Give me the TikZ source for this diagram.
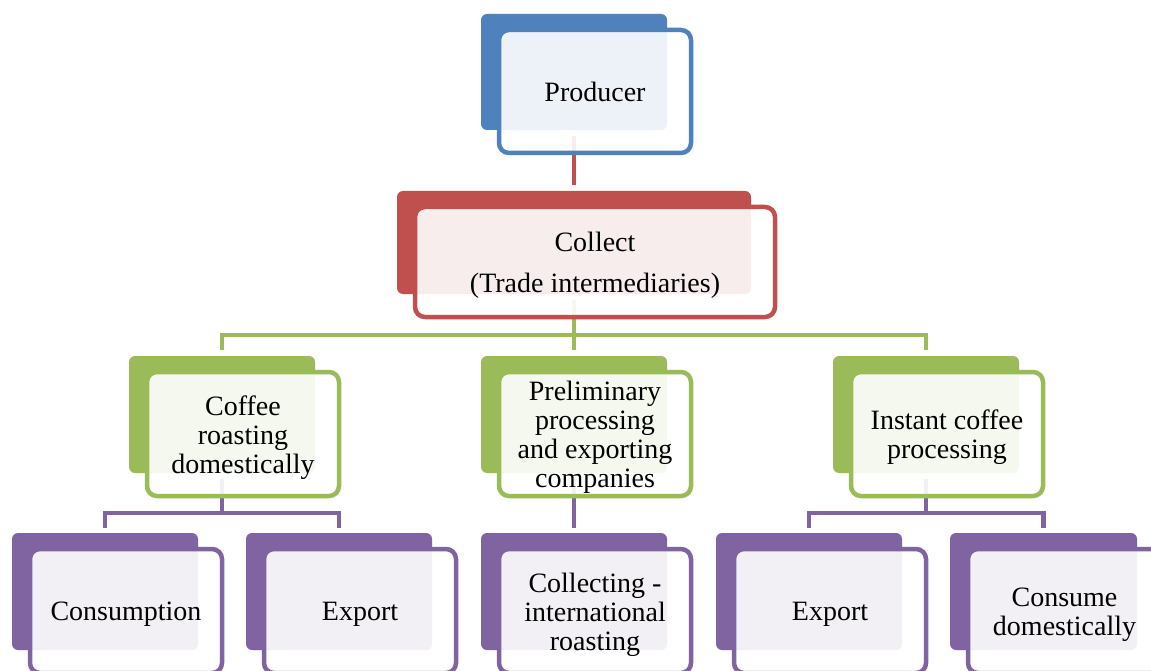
\documentclass[tikz,border=0pt]{standalone}
\usepackage{fontspec}
\setmainfont{Liberation Serif}
\usetikzlibrary{calc}
\definecolor{cblue}{HTML}{4F81BD}
\definecolor{cred}{HTML}{C0504D}
\definecolor{cgreen}{HTML}{9BBB59}
\definecolor{cpurple}{HTML}{8064A2}
\tikzset{
  backbox/.style={fill=#1, draw=none, rounded corners=6pt, inner sep=0pt, outer sep=0pt},
  frontbox/.style={draw=#1, fill=white, fill opacity=0.9, line width=4.5pt, rounded corners=10pt, inner sep=0pt, outer sep=0pt},
  boxtext/.style={font=\fontsize{28}{29}\selectfont, align=center, inner sep=0pt, text=black},
  link/.style={draw=#1, line width=4.5pt},
}
\newcommand\backpart[5]{% name, colour, width, height, centre
  \node[backbox=#2, minimum width=#3pt, minimum height=#4pt] (#1B) at #5 {};}
\newcommand\frontpart[6]{% name, colour, width, height, text shift, text
  \node[frontbox=#2, minimum width={(#3+6)*1pt}, minimum height={(#4+7)*1pt}] (#1F) at ($(#1B.center)+(21,19.5)$) {};
  \node[boxtext] (#1T) at ($(#1F.center)+(0,#5)$) {#6};}
\begin{document}
\begin{tikzpicture}[x=1pt,y=-1pt]
\clip (0,0) rectangle (1151,671);
\fill[white] (0,0) rectangle (1151,671);
% back parts
\backpart{prod}{cblue}{186}{116}{(574,72)}
\backpart{col}{cred}{354}{103}{(574,242.5)}
\backpart{cof}{cgreen}{186}{117}{(222,414.5)}
\backpart{pre}{cgreen}{186}{117}{(574,414.5)}
\backpart{ins}{cgreen}{186}{117}{(926,414.5)}
\backpart{con}{cpurple}{186}{117}{(105,591.5)}
\backpart{exa}{cpurple}{186}{117}{(339,591.5)}
\backpart{clg}{cpurple}{186}{117}{(574,591.5)}
\backpart{exb}{cpurple}{186}{117}{(809,591.5)}
\backpart{cdm}{cpurple}{187}{117}{(1043.5,591.5)}
% connectors
\draw[link=cred, shorten <=6pt, shorten >=6pt] (prodB.south) -- (colB.north);
\coordinate (gbus) at (574,335);
\draw[link=cgreen, shorten <=6pt] (colB.south) -- (gbus);
\draw[link=cgreen, shorten >=6pt] (gbus) -| (cofB.north);
\draw[link=cgreen, shorten >=6pt] (gbus) -| (insB.north);
\draw[link=cgreen, shorten >=6pt] (gbus) -- (preB.north);
\coordinate (pbusa) at (222,513);
\draw[link=cpurple, shorten <=6pt] (cofB.south) -- (pbusa);
\draw[link=cpurple, shorten >=5pt] (pbusa) -| (conB.north);
\draw[link=cpurple, shorten >=5pt] (pbusa) -| (exaB.north);
\draw[link=cpurple, shorten <=6pt, shorten >=5pt] (preB.south) -- (clgB.north);
\coordinate (pbusb) at (926,513);
\draw[link=cpurple, shorten <=6pt] (insB.south) -- (pbusb);
\draw[link=cpurple, shorten >=5pt] (pbusb) -| (exbB.north);
\draw[link=cpurple, shorten >=5pt] (pbusb) -| (cdmB.north);
% front parts and texts
\frontpart{prod}{cblue}{186}{116}{0.5}{Producer}
\frontpart{col}{cred}{354}{103}{3.5}{Collect\\[12pt](Trade intermediaries)}
\frontpart{cof}{cgreen}{186}{117}{3.5}{Coffee\\roasting\\domestically}
\frontpart{pre}{cgreen}{186}{117}{3.5}{Preliminary\\processing\\and exporting\\companies}
\frontpart{ins}{cgreen}{186}{117}{3.5}{Instant coffee\\processing}
\frontpart{con}{cpurple}{186}{117}{3.5}{Consumption}
\frontpart{exa}{cpurple}{186}{117}{3.5}{Export}
\frontpart{clg}{cpurple}{186}{117}{3.5}{Collecting -\\international\\roasting}
\frontpart{exb}{cpurple}{186}{117}{3.5}{Export}
\frontpart{cdm}{cpurple}{187}{117}{3.5}{Consume\\domestically}
\end{tikzpicture}
\end{document}
